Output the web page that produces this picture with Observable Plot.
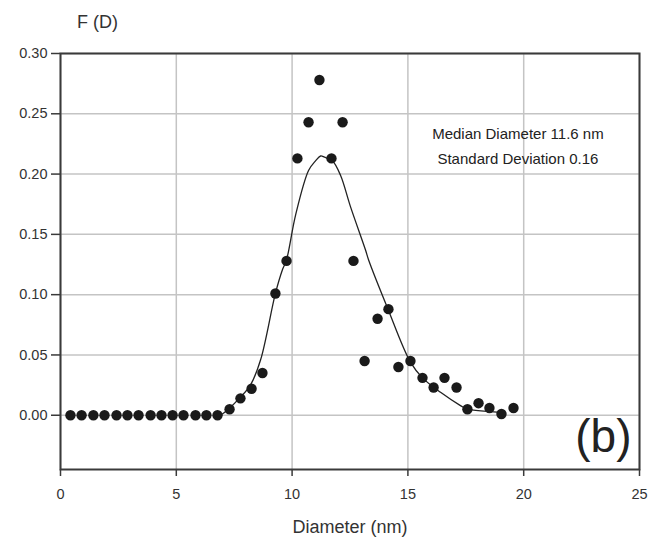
<!DOCTYPE html>
<html>
<head>
<meta charset="utf-8">
<script src="https://cdn.jsdelivr.net/npm/d3@7"></script>
<script src="https://cdn.jsdelivr.net/npm/@observablehq/plot@0.6"></script>
<style>
  html, body { margin: 0; padding: 0; background: #fff; overflow: hidden; }
  #chart svg { display: block; }
</style>
</head>
<body>
<div id="chart"></div>
<script>
// Measured size distribution (points)
const diameter = [0.43,0.91,1.42,1.90,2.42,2.89,3.37,3.89,4.36,4.84,5.31,5.83,6.30,6.78,
  7.30,7.77,8.25,8.72,9.28,9.76,10.23,10.71,11.18,11.70,12.18,12.65,13.13,13.69,14.16,14.59,
  15.11,15.63,16.11,16.58,17.10,17.57,18.05,18.52,19.04,19.56];
const freq = [0,0,0,0,0,0,0,0,0,0,0,0,0,0,
  0.005,0.014,0.022,0.035,0.101,0.128,0.213,0.243,0.278,0.213,0.243,0.128,0.045,0.080,0.088,0.040,
  0.045,0.031,0.023,0.031,0.023,0.005,0.010,0.006,0.001,0.006];

// Fitted log-normal curve
const fitD = [6.99,7.25,7.77,8.20,8.64,9.28,9.59,9.76,10.15,10.71,11.01,11.23,11.40,11.74,12.09,12.52,13.17,13.30,14.12,15.11,15.63,16.41,17.27,17.57,18.57,19.21];
const fitF = [0.001,0.005,0.015,0.025,0.046,0.101,0.121,0.129,0.166,0.203,0.211,0.215,0.214,0.211,0.199,0.173,0.137,0.129,0.089,0.044,0.031,0.019,0.008,0.005,0.003,0.002];

const xTicks = [0,5,10,15,20,25];
const yTicks = [0,0.05,0.10,0.15,0.20,0.25,0.30];
const annotation = "Median Diameter 11.6 nm\nStandard Deviation 0.16";
const panelLabel = "(b)";
const xLabel = "Diameter (nm)";
const yLabel = "F (D)";

const points = diameter.map((d, i) => ({d, f: freq[i]}));
const fit = fitD.map((d, i) => ({d, f: fitF[i]}));

const ink = "#333";
const chart = Plot.plot({
  width: 659,
  height: 538,
  marginLeft: 60,
  marginRight: 20,
  marginTop: 53,
  marginBottom: 69,
  style: {fontFamily: "'Liberation Sans', Arial, sans-serif", color: ink, background: "#fff"},
  x: {domain: [0, 25]},
  y: {domain: [-0.045, 0.30]},
  marks: [
    Plot.gridX(xTicks, {stroke: "#c4c4c4", strokeOpacity: 1, strokeWidth: 1.5}),
    Plot.gridY(yTicks, {stroke: "#c4c4c4", strokeOpacity: 1, strokeWidth: 1.5}),
    Plot.frame({stroke: "#3a3a3a", strokeWidth: 2}),
    Plot.axisX(xTicks, {tickSize: 7, tickPadding: 12, fontSize: 14.5, label: null, stroke: "#3a3a3a", strokeWidth: 1.5, fill: ink}),
    Plot.axisY(yTicks, {tickSize: 9, tickPadding: 4, fontSize: 14.5, label: null, tickFormat: d3.format(".2f"), stroke: "#3a3a3a", strokeWidth: 1.5, fill: ink}),
    Plot.line(fit, {x: "d", y: "f", stroke: "#222", strokeWidth: 1.3, curve: "catmull-rom"}),
    Plot.dot(points, {x: "d", y: "f", r: 5.2, fill: "#1a1a1a", stroke: "none"}),
    Plot.text([annotation], {x: 19.75, y: 0.225, text: d => d, fontSize: 15, lineHeight: 1.67, textAnchor: "middle", lineAnchor: "middle", fill: "#222"}),
    Plot.text([panelLabel], {frameAnchor: "bottom-right", text: d => d, dx: -8, dy: -32, fontSize: 46, textAnchor: "end", lineAnchor: "middle", fill: "#222"}),
    Plot.text([xLabel], {frameAnchor: "bottom", text: d => d, dy: 58, fontSize: 18, lineAnchor: "middle", fill: ink}),
    Plot.text([yLabel], {frameAnchor: "top-left", text: d => d, dx: 37, dy: -31, fontSize: 18, textAnchor: "middle", lineAnchor: "middle", fill: ink})
  ]
});
document.getElementById("chart").appendChild(chart);
</script>
</body>
</html>
